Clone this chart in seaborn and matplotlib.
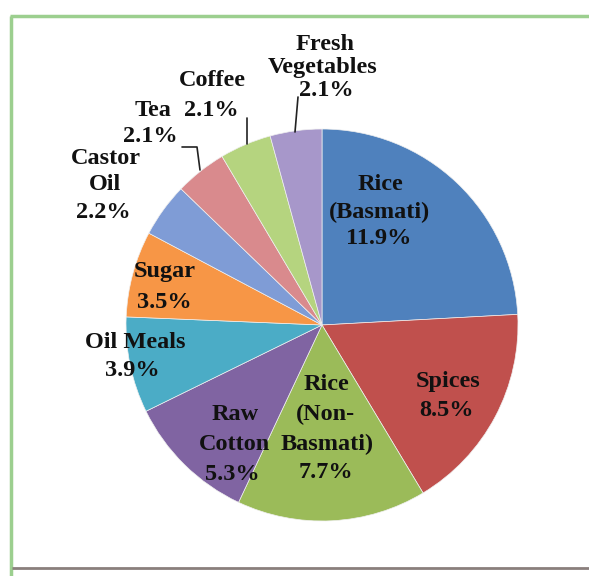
import matplotlib
matplotlib.use("Agg")
import matplotlib.pyplot as plt
import matplotlib.transforms as mtransforms
import seaborn as sns

sns.set_theme(style="white")
plt.rcParams['font.family'] = ['Liberation Serif', 'DejaVu Serif']

categories = ["Rice (Basmati)", "Spices", "Rice (Non-Basmati)", "Raw Cotton", "Oil Meals",
              "Sugar", "Castor Oil", "Tea", "Coffee", "Fresh Vegetables"]
values = [11.9, 8.5, 7.7, 5.3, 3.9, 3.5, 2.2, 2.1, 2.1, 2.1]
colors = ["#4F81BD", "#C0504D", "#9BBB59", "#8064A2", "#4BACC6", "#F79646",
          "#7F9CD6", "#D98A8D", "#B5D47F", "#A797CA"]

W, H = 589, 576
fig = plt.figure(figsize=(W / 100, H / 100), dpi=100)
ax = fig.add_axes([0, 0, 1, 1])
ax.axis('off')

cx, cy, r = 322, 325, 196
wedges, _ = ax.pie(values, colors=colors, startangle=90, counterclock=False,
                   center=(cx, -cy), radius=r,
                   wedgeprops=dict(edgecolor="#f0f0f0", linewidth=0.5))
flip = mtransforms.Affine2D().scale(1, -1) + ax.transData
for w in wedges:
    w.set_transform(flip)
ax.set_aspect('equal')
ax.set_xlim(0, W)
ax.set_ylim(H, 0)

fs = 17.5
tc = "#111111"
def t(x, y, s, size=fs):
    ax.text(x, y, s, ha="center", va="center", fontsize=size, fontweight="bold", color=tc)

# Rice (Basmati)
t(380, 184, "Rice"); t(380, 212, "(Basmati)"); t(379, 238, f"{values[0]}%")
# Spices
t(448, 382, "Spices"); t(447, 410, f"{values[1]}%")
# Rice (Non-Basmati)
t(326, 385, "Rice"); t(325, 414, "(Non-"); t(327, 444, "Basmati)"); t(326, 472, f"{values[2]}%")
# Raw Cotton
t(235, 415, "Raw"); t(234, 445, "Cotton"); t(232, 474, f"{values[3]}%")
# Oil Meals
t(135, 342, "Oil Meals"); t(132, 371, f"{values[4]}%")
# Sugar
t(165, 272, "Sugar"); t(164, 302, f"{values[5]}%")
# Castor Oil
t(106, 158, "Castor"); t(105, 185, "Oil"); t(103, 213, f"{values[6]}%")
# Coffee
t(212, 81, "Coffee"); t(211, 110, f"{values[8]}%")
# Tea
t(153, 110, "Tea"); t(150, 137, f"{values[7]}%")
# Fresh Vegetables
t(325, 44, "Fresh"); t(323, 67, "Vegetables"); t(326, 90, f"{values[9]}%")

# leader lines
lc = "#222222"
ax.plot([182, 197, 200], [147, 147, 170], color=lc, lw=1.2)
ax.plot([247, 247], [118, 144], color=lc, lw=1.2)
ax.plot([298, 295], [97, 132], color=lc, lw=1.2)

# frame
ax.plot([10.5, 10.5], [576, 16], color="#9ccf8f", lw=2.5, solid_capstyle="butt")
ax.plot([9.5, 589], [16, 16], color="#9ccf8f", lw=2.5, solid_capstyle="butt")
ax.plot([12, 589], [568, 568], color="#8a7f7c", lw=2, solid_capstyle="butt")

fig.savefig("out.png", dpi=100, facecolor="white")
